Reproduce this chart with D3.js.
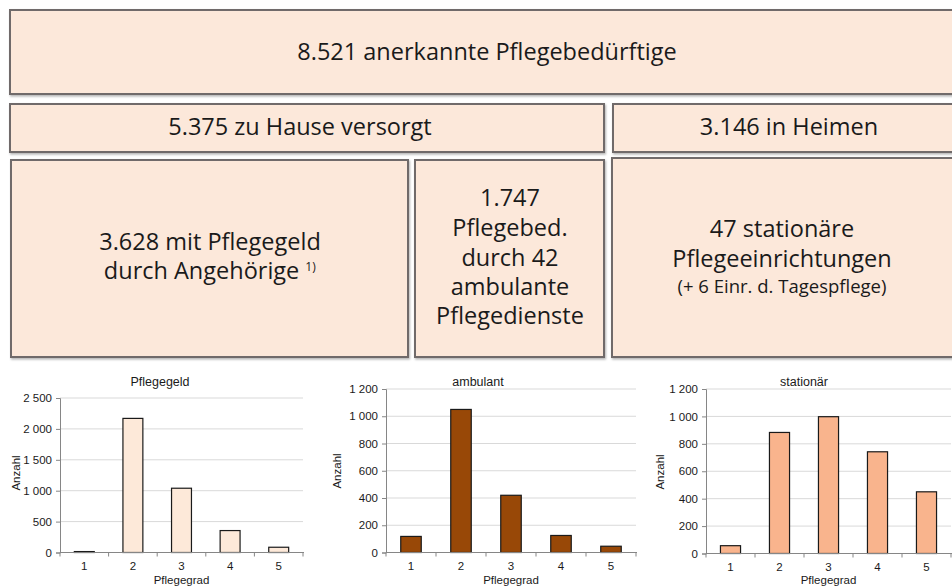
<!DOCTYPE html>
<html>
<head>
<meta charset="utf-8">
<script src="https://cdn.jsdelivr.net/npm/d3@7"></script>
<style>
  body { margin: 0; background: #fff; }
  svg { display: block; }
</style>
</head>
<body>
<div id="chart"></div>
<script>
// Daten
var pflegegrade = ["1", "2", "3", "4", "5"];
var pflegegeld = [15, 2170, 1040, 355, 85];
var ambulant = [118, 1050, 420, 125, 46];
var stationaer = [57, 883, 998, 742, 450];

var chartTitel = ["Pflegegeld", "ambulant", "stationär"];
var yMaxWerte = [2500, 1200, 1200];
var yTickWerte = [
  [0, 500, 1000, 1500, 2000, 2500],
  [0, 200, 400, 600, 800, 1000, 1200],
  [0, 200, 400, 600, 800, 1000, 1200]
];

var boxTexte = [
  ["8.521 anerkannte Pflegebedürftige"],
  ["5.375 zu Hause versorgt"],
  ["3.146 in Heimen"],
  ["3.628 mit Pflegegeld", "durch Angehörige"],
  ["1.747", "Pflegebed.", "durch 42", "ambulante", "Pflegedienste"],
  ["47 stationäre", "Pflegeeinrichtungen", "(+ 6 Einr. d. Tagespflege)"]
];
var fussnote = "1)";

var width = 952, height = 586;
var boxFont = "'Open Sans', sans-serif";
var chartFont = "'Liberation Sans', Arial, sans-serif";

var svg = d3.select("#chart")
  .append("svg")
  .attr("width", width)
  .attr("height", height);

var defs = svg.append("defs");
var shadow = defs.append("filter")
  .attr("id", "schatten")
  .attr("x", "-5%").attr("y", "-5%")
  .attr("width", "110%").attr("height", "120%");
shadow.append("feDropShadow")
  .attr("dx", 1).attr("dy", 1.5)
  .attr("stdDeviation", 0.8)
  .attr("flood-color", "#000")
  .attr("flood-opacity", 0.3);

// Kaesten oben
var boxLayout = [
  {x: 10, y: 10, w: 954, h: 84, tx: 487, ty: [60], fs: [23.5]},
  {x: 10, y: 104, w: 594, h: 48, tx: 300, ty: [135], fs: [23.5]},
  {x: 613, y: 104, w: 351, h: 48, tx: 789, ty: [135], fs: [23.5]},
  {x: 11, y: 160, w: 397, h: 197, tx: 210, ty: [250, 279], fs: [23.5, 23.5]},
  {x: 415, y: 160, w: 189, h: 197, tx: 510, ty: [206, 236, 266, 295, 324], fs: [23.5, 23.5, 23.5, 23.5, 23.5]},
  {x: 612, y: 158, w: 352, h: 199, tx: 782, ty: [237, 267, 293], fs: [23.5, 23.5, 18.5]}
];

var boxes = svg.append("g");
boxLayout.forEach(function(b, i) {
  boxes.append("rect")
    .attr("x", b.x)
    .attr("y", b.y)
    .attr("width", b.w)
    .attr("height", b.h)
    .style("fill", "#fce8da")
    .style("stroke", "#6f6b6b")
    .style("stroke-width", 2)
    .attr("filter", "url(#schatten)");

  boxTexte[i].forEach(function(line, j) {
    var t = boxes.append("text")
      .attr("x", b.tx)
      .attr("y", b.ty[j])
      .attr("text-anchor", "middle")
      .attr("font-family", boxFont)
      .style("font-size", b.fs[j] + "px")
      .style("fill", "#1a1a1a")
      .text(line);
    if (i == 3 && j == 1) {
      // Fussnote hinter der zweiten Zeile, Zeile samt Fussnote zentriert
      var note = boxes.append("text")
        .attr("y", b.ty[j] - 8)
        .attr("font-family", boxFont)
        .style("font-size", "12px")
        .style("fill", "#1a1a1a")
        .text(fussnote);
      var wText = t.node().getBBox().width;
      var wNote = note.node().getBBox().width;
      var gap = 6;
      var start = b.tx - (wText + gap + wNote) / 2;
      t.attr("text-anchor", "start").attr("x", start);
      note.attr("x", start + wText + gap);
    }
  });
});

// Saeulendiagramme
var fmt = d3.formatLocale({decimal: ",", thousands: " ", grouping: [3], currency: ["", "€"]}).format(",d");

var chartLayout = [
  {left: 60, right: 303, top: 398, bottom: 552.5, titelX: 160, yLabelX: 16, yLabelY: 473, color: "#fde9d9"},
  {left: 386, right: 636, top: 389, bottom: 552.5, titelX: 478, yLabelX: 337, yLabelY: 471, color: "#984807"},
  {left: 706, right: 951, top: 389, bottom: 553.5, titelX: 804, yLabelX: 660, yLabelY: 472, color: "#f9b48d"}
];
var serien = [pflegegeld, ambulant, stationaer];

chartLayout.forEach(function(c, k) {
  var werte = serien[k];
  var plot = svg.append("g");

  var x = d3.scaleBand()
    .domain(pflegegrade)
    .range([c.left, c.right])
    .paddingInner(0.59)
    .paddingOuter(0.295);

  var y = d3.scaleLinear()
    .domain([0, yMaxWerte[k]])
    .range([c.bottom, c.top]);

  // Gitterlinien
  plot.selectAll("grid")
    .data(yTickWerte[k].slice(1))
    .enter()
    .append("line")
    .attr("x1", c.left)
    .attr("x2", Math.min(c.right, width))
    .attr("y1", function(d) { return y(d); })
    .attr("y2", function(d) { return y(d); })
    .style("stroke", "#d9d9d9")
    .style("stroke-width", 1);

  // y-Achse
  var yAxis = plot.append("g")
    .attr("transform", "translate(" + c.left + ",0)")
    .call(d3.axisLeft(y).tickValues(yTickWerte[k]).tickFormat(fmt).tickSize(4).tickPadding(4));
  yAxis.select(".domain").style("stroke", "#868686");
  yAxis.selectAll(".tick line").style("stroke", "#868686");
  yAxis.selectAll("text")
    .attr("font-family", chartFont)
    .style("font-size", "11.5px")
    .style("fill", "#1a1a1a");

  // Balken
  plot.selectAll("bars")
    .data(werte)
    .enter()
    .append("rect")
    .attr("x", function(d, i) { return x(pflegegrade[i]); })
    .attr("y", function(d) { return y(d); })
    .attr("width", x.bandwidth())
    .attr("height", function(d) { return c.bottom - y(d); })
    .style("fill", c.color)
    .style("stroke", "#1a1a1a")
    .style("stroke-width", 1.2);

  // x-Achse
  var xAxis = plot.append("g")
    .attr("transform", "translate(0," + c.bottom + ")")
    .call(d3.axisBottom(x).tickSize(0).tickPadding(9));
  xAxis.select(".domain").remove();
  xAxis.selectAll("text")
    .attr("font-family", chartFont)
    .style("font-size", "11.5px")
    .style("fill", "#1a1a1a");

  plot.append("line")
    .attr("x1", c.left)
    .attr("x2", Math.min(c.right + 1, width))
    .attr("y1", c.bottom)
    .attr("y2", c.bottom)
    .style("stroke", "#868686");

  plot.selectAll("xticks")
    .data(d3.range(pflegegrade.length + 1))
    .enter()
    .append("line")
    .attr("x1", function(i) { return c.left + i * x.step(); })
    .attr("x2", function(i) { return c.left + i * x.step(); })
    .attr("y1", c.bottom)
    .attr("y2", c.bottom + 4)
    .style("stroke", "#868686");

  plot.append("text")
    .attr("x", c.titelX)
    .attr("y", 386)
    .attr("text-anchor", "middle")
    .attr("font-family", chartFont)
    .style("font-size", "12.5px")
    .style("fill", "#1a1a1a")
    .text(chartTitel[k]);

  plot.append("text")
    .attr("transform", "translate(" + c.yLabelX + "," + c.yLabelY + ") rotate(-90)")
    .attr("text-anchor", "middle")
    .attr("dy", "0.35em")
    .attr("font-family", chartFont)
    .style("font-size", "11.5px")
    .style("fill", "#1a1a1a")
    .text("Anzahl");

  plot.append("text")
    .attr("x", (c.left + c.right) / 2)
    .attr("y", 584)
    .attr("text-anchor", "middle")
    .attr("font-family", chartFont)
    .style("font-size", "11.5px")
    .style("fill", "#1a1a1a")
    .text("Pflegegrad");
});
</script>
</body>
</html>
